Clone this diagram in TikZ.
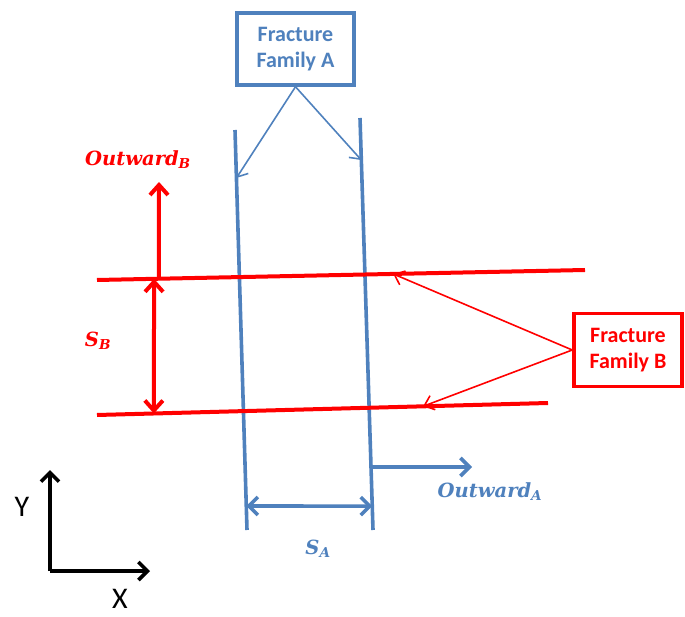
\documentclass[tikz,border=0pt]{standalone}
\usepackage{fontspec}
\setmainfont{Carlito}
\newfontfamily\labfont{DejaVu Serif}
\usetikzlibrary{arrows.meta,calc}
\definecolor{fblue}{HTML}{4F81BD}
\definecolor{fred}{HTML}{FF0000}
\begin{document}
\begin{tikzpicture}[x=1pt,y=-1pt,
  bline/.style={fblue,line width=3.6pt},
  rline/.style={fred,line width=4pt},
  thinA/.style={fblue,line width=1.6pt,-{Straight Barb[length=9pt,width=15pt]}},
  thinB/.style={fred,line width=1.6pt,-{Straight Barb[length=9pt,width=15pt]}},
  fatA/.style={fblue,line width=3.6pt,-{Straight Barb[length=9pt,width=18pt]}},
  fatAA/.style={fblue,line width=3.6pt,{Straight Barb[length=9pt,width=18pt]}-{Straight Barb[length=9pt,width=18pt]}},
  fatB/.style={fred,line width=4pt,-{Straight Barb[length=10pt,width=18pt]}},
  fatBB/.style={fred,line width=4pt,{Straight Barb[length=10pt,width=18pt]}-{Straight Barb[length=10pt,width=18pt]}},
  boxA/.style={draw=fblue,text=fblue,line width=3.5pt,fill=white,minimum width=117pt,minimum height=72pt,inner sep=0pt,align=center,font=\fontsize{22}{26}\selectfont\bfseries},
  boxB/.style={draw=fred,text=fred,line width=3.5pt,fill=white,minimum width=108pt,minimum height=73pt,inner sep=0pt,align=center,font=\fontsize{22}{26}\selectfont\bfseries},
  mlabA/.style={text=fblue,font=\labfont\fontsize{19.5}{22}\selectfont\bfseries\itshape,inner sep=0pt},
  mlabB/.style={text=fred,font=\labfont\fontsize{19.5}{22}\selectfont\bfseries\itshape,inner sep=0pt},
  axis/.style={black,line width=3.6pt,-{Straight Barb[length=9pt,width=18pt]}},
  axlab/.style={font=\fontsize{30}{32}\selectfont,inner sep=0pt}
]
\useasboundingbox (0,0) rectangle (685,617);

% Fracture family A lines
\coordinate (A1t) at (235,130);
\coordinate (A1b) at (247,530);
\coordinate (A2t) at (360,118);
\coordinate (A2b) at (373,530);
\draw[bline] (A1t) -- (A1b);
\draw[bline] (A2t) -- (A2b);

% Fracture family B lines
\coordinate (B1l) at (97,280);
\coordinate (B1r) at (585,270);
\coordinate (B2l) at (97,415);
\coordinate (B2r) at (548,403);
\draw[rline] (B1l) -- (B1r);
\draw[rline] (B2l) -- (B2r);

% Box A and pointers
\node[boxA] (FA) at (295.5,49) {Fracture\\Family A};
\coordinate (pA1) at ($(A1t)!0.12!(A1b)$);
\coordinate (pA2) at ($(A2t)!0.102!(A2b)$);
\draw[thinA] (FA.south) -- (pA1);
\draw[thinA] (FA.south) -- (pA2);

% Box B and pointers
\node[boxB] (FB) at (628,350) {Fracture\\Family B};
\coordinate (pB1) at ($(B1l)!0.607!(B1r)$);
\coordinate (pB2) at ($(B2l)!0.723!(B2r)$);
\draw[thinB] (FB.west) -- (pB1);
\draw[thinB] (FB.west) -- (pB2);

% Outward B and S_B
\coordinate (oB0) at ($(B1l)!0.127!(B1r)$);
\coordinate (oB1) at (159,182);
\draw[fatB] (oB0) -- (oB1);
\node[mlabB] (lOB) at (138,160) {Outward\textsubscript{B}};
\coordinate (sBt) at ($(B1l)!0.117!(B1r)$);
\coordinate (sBb) at ($(B2l)!0.126!(B2r)$);
\draw[fatBB] (sBt) -- (sBb);
\node[mlabB] (lSB) at (98,341) {S\textsubscript{B}};

% Outward A and S_A
\coordinate (oA0) at ($(A2t)!0.847!(A2b)$);
\coordinate (oA1) at (472,467);
\draw[fatA] (oA0) -- (oA1);
\node[mlabA] (lOA) at (490,492) {Outward\textsubscript{A}};
\coordinate (sAl) at ($(A1t)!0.94!(A1b)$);
\coordinate (sAr) at ($(A2t)!0.942!(A2b)$);
\draw[fatAA] (sAl) -- (sAr);
\node[mlabA] (lSA) at (318,549) {S\textsubscript{A}};

% Axes
\coordinate (O) at (50,571);
\coordinate (Yt) at (50,470);
\coordinate (Xt) at (150,571);
\draw[axis] (O) -- (Yt);
\draw[axis] (O) -- (Xt);
\node[axlab] (lY) at (22,507) {Y};
\node[axlab] (lX) at (120,599) {X};
\end{tikzpicture}
\end{document}
